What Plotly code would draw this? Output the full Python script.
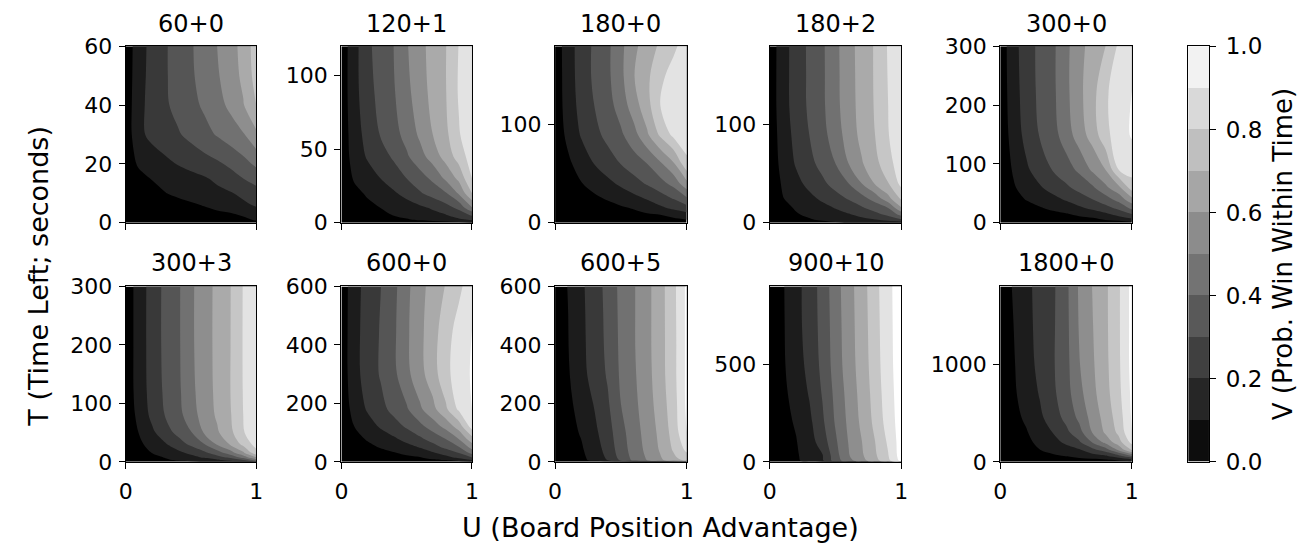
import plotly.graph_objects as go

W, H = 1306, 552

# ---------------- data ----------------
U = [0.0, 0.1, 0.2, 0.3, 0.4, 0.5, 0.6, 0.7, 0.8, 0.9, 1.0]
LEVELS = [0.0, 0.1, 0.2, 0.3, 0.4, 0.5, 0.6, 0.7, 0.8, 0.9, 1.0]
CBAR_TICKS = [0.0, 0.2, 0.4, 0.6, 0.8, 1.0]
CBAR_TICK_LABELS = ["0.0", "0.2", "0.4", "0.6", "0.8", "1.0"]
X_TICKS = [0, 1]

TITLES = ["60+0", "120+1", "180+0", "180+2", "300+0",
          "300+3", "600+0", "600+5", "900+10", "1800+0"]
T_MAX = [60, 120, 180, 180, 300, 300, 600, 600, 900, 1800]
Y_TICKS = [[0, 20, 40, 60], [0, 50, 100], [0, 100], [0, 100], [0, 100, 200, 300],
           [0, 100, 200, 300], [0, 200, 400, 600], [0, 200, 400, 600], [0, 500], [0, 1000]]

T_60_0 = [0, 1, 3, 6, 10, 15, 20, 30, 40, 50, 60]
V_60_0 = [
    [0, 0, 0, 0, .01, .01, .02, .03, .04, .06, .08],
    [0, .005, .01, .015, .02, .03, .04, .05, .06, .08, .11],
    [.005, .016, .027, .038, .049, .06, .071, .082, .093, .117, .16],
    [.01, .026, .041, .057, .072, .088, .105, .131, .156, .182, .21],
    [.015, .042, .07, .097, .117, .136, .155, .174, .192, .222, .26],
    [.02, .064, .104, .126, .147, .168, .189, .22, .26, .3, .34],
    [.03, .116, .146, .176, .205, .232, .258, .284, .319, .367, .42],
    [.035, .175, .226, .258, .29, .328, .368, .408, .45, .492, .58],
    [.04, .169, .237, .285, .329, .371, .415, .465, .521, .593, .70],
    [.04, .159, .235, .289, .338, .386, .437, .489, .55, .622, .74],
    [.04, .153, .233, .289, .34, .39, .444, .5, .559, .633, .75],
]

T_120_1 = [0, 2, 5, 10, 20, 30, 45, 60, 90, 120]
V_120_1 = [
    [0, .005, .01, .015, .02, .03, .04, .05, .06, .08, .1],
    [.003, .021, .038, .056, .074, .091, .112, .135, .158, .181, .21],
    [.005, .029, .054, .078, .102, .125, .152, .175, .193, .247, .31],
    [.01, .04, .07, .1, .126, .153, .179, .21, .26, .322, .49],
    [.015, .069, .115, .151, .186, .233, .289, .34, .39, .514, .7],
    [.02, .113, .157, .2, .25, .3, .356, .42, .518, .625, .8],
    [.03, .146, .21, .26, .314, .386, .462, .545, .64, .744, .85],
    [.035, .155, .234, .306, .365, .433, .517, .6, .677, .792, .87],
    [.04, .167, .264, .334, .391, .474, .556, .63, .697, .811, .88],
    [.04, .164, .278, .344, .40, .491, .569, .636, .697, .804, .87],
]

T_180_0 = [0, 3, 8, 15, 25, 40, 60, 90, 120, 150, 180]
V_180_0 = [
    [0, .004, .008, .012, .016, .02, .025, .03, .035, .045, .06],
    [0, .008, .016, .024, .032, .04, .048, .056, .064, .08, .1],
    [.003, .015, .027, .039, .052, .064, .076, .088, .1, .133, .165],
    [.005, .021, .038, .054, .07, .087, .107, .144, .181, .22, .26],
    [.01, .034, .059, .083, .11, .142, .174, .21, .257, .308, .39],
    [.015, .055, .096, .136, .176, .218, .264, .311, .363, .433, .57],
    [.02, .082, .143, .203, .253, .302, .351, .40, .483, .584, .77],
    [.035, .127, .21, .271, .329, .384, .465, .586, .72, .826, .87],
    [.04, .147, .234, .302, .364, .443, .556, .666, .80, .84, .88],
    [.04, .152, .246, .319, .379, .474, .597, .677, .781, .832, .87],
    [.04, .156, .246, .318, .379, .474, .577, .651, .717, .783, .84],
]

T_180_2 = [0, 3, 8, 15, 25, 40, 60, 90, 120, 150, 180]
V_180_2 = [
    [.003, .02, .04, .06, .075, .09, .105, .12, .13, .14, .15],
    [.005, .034, .063, .091, .114, .135, .155, .176, .196, .24, .29],
    [.008, .049, .09, .118, .142, .166, .19, .225, .267, .318, .43],
    [.01, .065, .111, .142, .172, .204, .246, .288, .341, .40, .59],
    [.015, .097, .138, .177, .218, .264, .311, .367, .444, .571, .72],
    [.02, .115, .172, .226, .279, .338, .40, .50, .609, .695, .83],
    [.03, .136, .209, .27, .333, .40, .50, .591, .669, .762, .86],
    [.035, .15, .229, .30, .368, .452, .545, .629, .70, .795, .88],
    [.04, .16, .244, .316, .382, .47, .56, .636, .708, .80, .885],
    [.04, .16, .245, .317, .383, .472, .563, .638, .71, .805, .885],
    [.04, .158, .246, .318, .384, .474, .565, .64, .71, .809, .88],
]

T_300_0 = [0, 3, 8, 15, 25, 40, 60, 90, 150, 225, 300]
V_300_0 = [
    [0, .005, .01, .015, .02, .025, .03, .04, .05, .06, .08],
    [.003, .014, .024, .035, .046, .056, .067, .078, .088, .099, .125],
    [.005, .018, .031, .045, .058, .071, .084, .097, .131, .171, .21],
    [.008, .025, .043, .06, .077, .095, .123, .155, .187, .24, .307],
    [.01, .037, .065, .092, .121, .152, .184, .221, .267, .325, .425],
    [.02, .064, .106, .141, .175, .211, .256, .30, .359, .438, .575],
    [.025, .09, .141, .19, .236, .282, .332, .384, .478, .576, .75],
    [.03, .11, .185, .247, .305, .358, .42, .517, .60, .80, .84],
    [.035, .14, .234, .306, .365, .447, .553, .641, .772, .852, .91],
    [.04, .154, .251, .321, .379, .474, .575, .66, .785, .848, .90],
    [.04, .162, .256, .323, .38, .474, .568, .639, .70, .817, .88],
]

T_300_3 = [0, 3, 8, 15, 30, 50, 80, 120, 200, 300]
V_300_3 = [
    [0, .017, .033, .05, .067, .083, .1, .133, .167, .2, .3],
    [.004, .031, .059, .086, .112, .137, .161, .185, .227, .30, .45],
    [.008, .04, .073, .105, .139, .174, .213, .264, .329, .443, .61],
    [.012, .056, .10, .138, .175, .22, .277, .349, .449, .58, .76],
    [.02, .08, .135, .189, .253, .321, .395, .512, .609, .727, .84],
    [.025, .102, .179, .255, .327, .394, .508, .586, .673, .791, .88],
    [.035, .126, .224, .302, .366, .455, .543, .614, .691, .80, .89],
    [.04, .14, .238, .315, .378, .473, .552, .622, .698, .804, .89],
    [.04, .142, .244, .322, .383, .482, .556, .625, .697, .806, .885],
    [.04, .142, .243, .322, .383, .482, .556, .624, .696, .805, .88],
]

T_600_0 = [0, 5, 15, 30, 50, 80, 120, 180, 300, 450, 600]
V_600_0 = [
    [0, .005, .01, .015, .02, .025, .03, .04, .05, .07, .1],
    [.004, .015, .026, .038, .049, .06, .071, .082, .094, .127, .19],
    [.008, .023, .037, .052, .066, .081, .095, .129, .171, .224, .30],
    [.012, .032, .052, .072, .092, .121, .154, .188, .239, .30, .43],
    [.02, .048, .077, .106, .138, .17, .205, .262, .323, .394, .537],
    [.025, .069, .111, .149, .187, .234, .285, .343, .407, .509, .67],
    [.03, .10, .155, .21, .26, .311, .369, .444, .53, .644, .84],
    [.035, .135, .211, .269, .329, .388, .481, .57, .682, .819, .90],
    [.04, .165, .244, .309, .375, .472, .566, .654, .772, .85, .91],
    [.04, .166, .244, .307, .38, .482, .574, .657, .757, .839, .90],
    [.04, .161, .239, .298, .372, .474, .566, .639, .706, .777, .86],
]

T_600_5 = [0, 5, 15, 40, 100, 200, 300, 400, 500, 600]
V_600_5 = [
    [0, .01, .02, .03, .04, .05, .07, .1, .15, .2, .3],
    [.01, .043, .077, .123, .20, .317, .421, .50, .581, .65, .72],
    [.02, .051, .082, .132, .218, .333, .432, .511, .592, .678, .76],
    [.03, .06, .089, .149, .237, .349, .444, .525, .61, .71, .82],
    [.035, .07, .108, .177, .259, .365, .458, .538, .626, .738, .90],
    [.04, .08, .136, .208, .287, .40, .476, .556, .648, .756, .92],
    [.045, .091, .168, .241, .311, .416, .487, .566, .661, .768, .92],
    [.05, .098, .176, .247, .322, .421, .493, .571, .663, .767, .92],
    [.05, .10, .179, .249, .326, .424, .493, .571, .663, .77, .92],
    [.05, .104, .183, .252, .332, .427, .493, .571, .663, .772, .92],
]

T_900_10 = [0, 5, 30, 100, 200, 350, 500, 700, 900]
V_900_10 = [
    [0, .02, .04, .06, .08, .1, .15, .2, .25, .3, .4],
    [.02, .055, .085, .13, .185, .35, .46, .56, .66, .77, .93],
    [.03, .06, .089, .136, .191, .361, .492, .585, .683, .794, .95],
    [.035, .065, .095, .155, .246, .384, .505, .598, .698, .815, .95],
    [.04, .072, .109, .175, .281, .41, .521, .621, .724, .844, .95],
    [.045, .08, .133, .207, .307, .427, .536, .635, .739, .86, .95],
    [.05, .088, .151, .231, .324, .445, .552, .645, .751, .87, .95],
    [.05, .09, .164, .244, .331, .452, .557, .651, .758, .874, .95],
    [.05, .092, .166, .246, .336, .459, .561, .656, .764, .877, .95],
]

T_1800_0 = [0, 20, 60, 120, 200, 300, 450, 700, 1000, 1400, 1800]
V_1800_0 = [
    [0, .005, .01, .015, .02, .025, .03, .04, .05, .06, .08],
    [.01, .02, .03, .04, .05, .06, .07, .08, .09, .115, .16],
    [.02, .036, .053, .069, .085, .103, .131, .158, .186, .267, .40],
    [.03, .053, .075, .098, .127, .157, .186, .266, .346, .51, .71],
    [.035, .06, .084, .117, .165, .219, .285, .402, .528, .659, .83],
    [.04, .067, .094, .144, .202, .273, .362, .502, .614, .721, .90],
    [.045, .076, .114, .179, .249, .326, .421, .537, .637, .748, .91],
    [.05, .086, .14, .207, .279, .36, .468, .571, .664, .773, .92],
    [.05, .091, .159, .227, .289, .367, .494, .586, .675, .783, .93],
    [.05, .099, .17, .232, .286, .371, .507, .595, .68, .786, .93],
    [.05, .107, .176, .233, .283, .374, .513, .602, .681, .786, .93],
]

PANELS = [
    (T_60_0, V_60_0), (T_120_1, V_120_1), (T_180_0, V_180_0), (T_180_2, V_180_2),
    (T_300_0, V_300_0), (T_300_3, V_300_3), (T_600_0, V_600_0), (T_600_5, V_600_5),
    (T_900_10, V_900_10), (T_1800_0, V_1800_0),
]

# ---------------- layout geometry (figure pixels) ----------------
COL_PX = [(120, 252), (338, 470), (554, 687), (771, 904), (1004, 1137)]
ROW_PX = [(35, 220), (287, 471)]
TITLE_Y = [12, 262]
CBAR_PX = (1194, 1215)
FONT = "DejaVu Sans"
GRAY = [[0, "rgb(0,0,0)"], [1, "rgb(255,255,255)"]]


def xdom(a, b):
    return [a / W, b / W]


def ydom(top, bottom):
    return [1 - bottom / H, 1 - top / H]


fig = go.Figure()
layout = dict(
    width=W, height=H, margin=dict(l=0, r=0, t=0, b=0),
    paper_bgcolor="white", plot_bgcolor="white",
    font=dict(family=FONT, size=22, color="black"),
    showlegend=False,
)
annotations = []

step = LEVELS[1] - LEVELS[0]
for i, ((T, V), title) in enumerate(zip(PANELS, TITLES)):
    r, c = divmod(i, 5)
    n = i + 1
    xa = "x" if n == 1 else f"x{n}"
    ya = "y" if n == 1 else f"y{n}"
    fig.add_trace(go.Contour(
        x=U, y=T, z=V, zmin=LEVELS[0], zmax=LEVELS[-1],
        autocontour=False,
        contours=dict(start=LEVELS[1], end=LEVELS[-2], size=step,
                      coloring="fill", showlines=False),
        colorscale=GRAY, showscale=False,
        line=dict(width=0, smoothing=1),
        xaxis=xa, yaxis=ya, hoverinfo="skip",
    ))
    axis_common = dict(
        showline=True, linecolor="black", linewidth=1.3, mirror=True,
        ticks="outside", ticklen=6, tickwidth=1.3, tickcolor="black",
        showgrid=False, zeroline=False,
        tickfont=dict(family=FONT, size=22, color="black"),
    )
    layout["xaxis" if n == 1 else f"xaxis{n}"] = dict(
        domain=xdom(*COL_PX[c]), anchor=ya, range=[0, 1],
        tickmode="array", tickvals=X_TICKS, ticktext=[str(v) for v in X_TICKS],
        showticklabels=(r == 1), ticklabelstandoff=4, **axis_common)
    layout["yaxis" if n == 1 else f"yaxis{n}"] = dict(
        domain=ydom(*ROW_PX[r]), anchor=xa, range=[0, T_MAX[i]],
        tickmode="array", tickvals=Y_TICKS[i], ticktext=[str(v) for v in Y_TICKS[i]],
        ticklabelstandoff=2, **axis_common)
    annotations.append(dict(
        text=title, xref="paper", yref="paper",
        x=(COL_PX[c][0] + COL_PX[c][1]) / 2 / W,
        y=1 - TITLE_Y[r] / H,
        xanchor="center", yanchor="middle", showarrow=False,
        font=dict(family=FONT, size=24, color="black"),
    ))

# ---------------- colour bar (drawn from the level list) ----------------
mids = [(a + b) / 2 for a, b in zip(LEVELS[:-1], LEVELS[1:])]
fig.add_trace(go.Heatmap(
    x=[0], y=mids, z=[[m] for m in mids], zmin=LEVELS[0], zmax=LEVELS[-1],
    colorscale=GRAY, showscale=False, xaxis="x11", yaxis="y11", hoverinfo="skip",
))
layout["xaxis11"] = dict(domain=xdom(*CBAR_PX), anchor="y11", range=[-0.5, 0.5],
                         showticklabels=False, ticks="", showgrid=False, zeroline=False,
                         showline=True, linecolor="black", linewidth=1.3, mirror=True)
layout["yaxis11"] = dict(domain=ydom(ROW_PX[0][0], ROW_PX[1][1]), anchor="x11",
                         range=[LEVELS[0], LEVELS[-1]], side="right",
                         tickmode="array", tickvals=CBAR_TICKS, ticktext=CBAR_TICK_LABELS,
                         ticks="outside", ticklen=6, tickwidth=1.3, tickcolor="black",
                         ticklabelstandoff=5,
                         showgrid=False, zeroline=False,
                         showline=True, linecolor="black", linewidth=1.3, mirror=True,
                         tickfont=dict(family=FONT, size=23, color="black"))

annotations += [
    dict(text="U (Board Position Advantage)", xref="paper", yref="paper",
         x=661 / W, y=1 - 540 / H, xanchor="center", yanchor="middle", showarrow=False,
         font=dict(family=FONT, size=27, color="black")),
    dict(text="T (Time Left; seconds)", xref="paper", yref="paper",
         x=31 / W, y=1 - 276 / H, xanchor="center", yanchor="middle", showarrow=False,
         textangle=-90, font=dict(family=FONT, size=27, color="black")),
    dict(text="V (Prob. Win Within Time)", xref="paper", yref="paper",
         x=1290 / W, y=1 - 253 / H, xanchor="center", yanchor="middle", showarrow=False,
         textangle=-90, font=dict(family=FONT, size=26, color="black")),
]
layout["annotations"] = annotations
fig.update_layout(**layout)
fig.write_html("out.html")
